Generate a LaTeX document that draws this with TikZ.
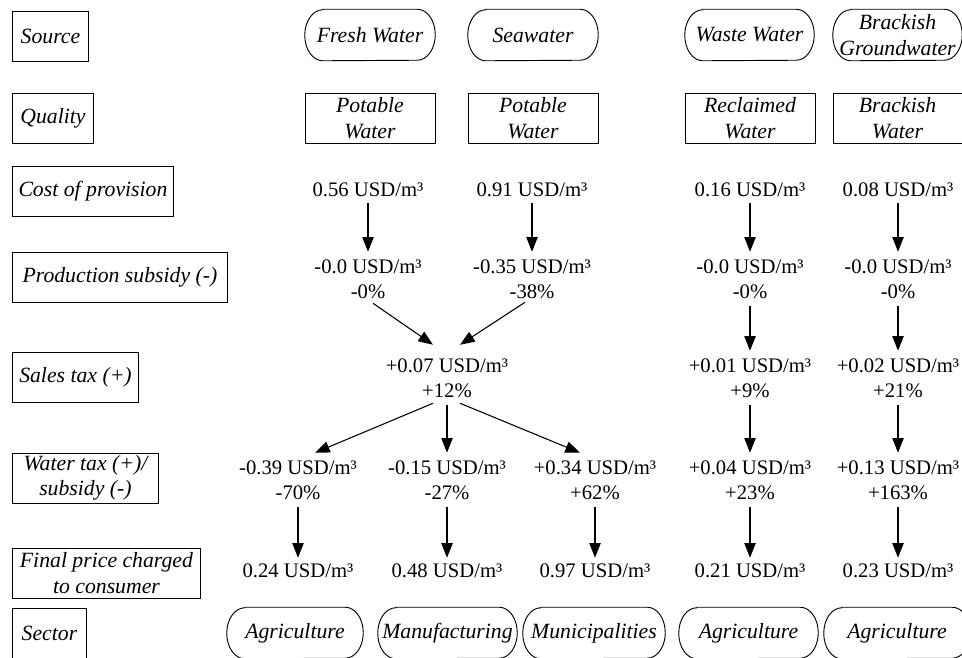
\documentclass[tikz,border=0pt]{standalone}
\usepackage{fontspec}
\setmainfont{Liberation Serif}
\usetikzlibrary{arrows.meta,calc}
\newcommand\vfnt{\fontsize{15.5}{19}\selectfont}
\newcommand\ifnt{\fontsize{16.3}{19}\selectfont\itshape}
\newcommand\stadout[1]{%
  \draw[line width=0.7pt] ($(#1.north west)+(18,0)$) -- ($(#1.north east)+(-18,0)$)
    arc[start angle=90,end angle=-90,x radius=13.5pt,y radius=19.125pt]
    -- ($(#1.south west)+(18,0)$)
    arc[start angle=270,end angle=90,x radius=13.5pt,y radius=19.125pt] -- cycle;}
\tikzset{
  lbl/.style={draw, line width=0.7pt, font=\ifnt, align=center, inner sep=0pt,
    anchor=west, minimum height=37.5pt},
  qbox/.style={draw, line width=0.7pt, font=\ifnt, align=center, inner sep=0pt,
    minimum height=37.5pt},
  stad/.style={font=\ifnt, align=center, inner sep=0pt, minimum height=38.25pt},
  val/.style={font=\vfnt, align=center, inner sep=0pt, minimum height=19.5pt},
  valtwo/.style={font=\vfnt, align=center, inner sep=0pt, minimum height=40.5pt},
  arr/.style={line width=0.8pt, -{Triangle[length=11pt,width=8.5pt]}},
}
\begin{document}
\begin{tikzpicture}[x=0.75pt,y=-0.75pt]
\path[use as bounding box] (0,0) rectangle (962,657);
\clip (0,0) rectangle (962,657);

% row labels
\node[lbl, minimum width=57pt]     (lsrc)  at (12,36)  {Source};
\node[lbl, minimum width=60.75pt]  (lqual) at (12,118) {Quality};
\node[lbl, minimum width=120.75pt] (lcost) at (12,191) {Cost of provision};
\node[lbl, minimum width=161.25pt] (lprod) at (12,277) {Production subsidy (-)};
\node[lbl, minimum width=94.5pt]   (lsale) at (12,377) {Sales tax (+)};
\node[lbl, minimum width=109.5pt]  (lwat)  at (12,478) {Water tax (+)/\\subsidy (-)};
\node[lbl, minimum width=141pt]    (lfin)  at (12,573) {Final price charged\\to consumer};
\node[lbl, minimum width=55.5pt]   (lsec)  at (12,633) {Sector};

% sources
\node[stad, minimum width=97.5pt]  (src1) at (370,35)   {Fresh Water};
\node[stad, minimum width=97.5pt]  (src2) at (533,35)   {Seawater};
\node[stad, minimum width=96.75pt] (src3) at (749.5,35) {Waste Water};
\node[stad, minimum width=96.75pt] (src4) at (897.5,35) {Brackish\\Groundwater};
\stadout{src1}\stadout{src2}\stadout{src3}\stadout{src4}

% quality
\node[qbox, minimum width=97.5pt]  (q1) at (370,118)   {Potable\\Water};
\node[qbox, minimum width=97.5pt]  (q2) at (533,118)   {Potable\\Water};
\node[qbox, minimum width=97.5pt]  (q3) at (750,118)   {Reclaimed\\Water};
\node[qbox, minimum width=96.75pt] (q4) at (897.5,118) {Brackish\\Water};

% cost of provision
\node[val] (c1) at (368,190) {0.56 USD/m³};
\node[val] (c2) at (532,190) {0.91 USD/m³};
\node[val] (c3) at (750,190) {0.16 USD/m³};
\node[val] (c4) at (898,190) {0.08 USD/m³};

% production subsidy
\node[valtwo] (p1) at (368,279) {-0.0 USD/m³\\-0\%};
\node[valtwo] (p2) at (532,279) {-0.35 USD/m³\\-38\%};
\node[valtwo] (p3) at (750,279) {-0.0 USD/m³\\-0\%};
\node[valtwo] (p4) at (898,279) {-0.0 USD/m³\\-0\%};

% sales tax
\node[valtwo] (s)  at (447,378) {+0.07 USD/m³\\+12\%};
\node[valtwo] (s3) at (750,378) {+0.01 USD/m³\\+9\%};
\node[valtwo] (s4) at (898,378) {+0.02 USD/m³\\+21\%};

% water tax / subsidy
\node[valtwo] (w1) at (298,480) {-0.39 USD/m³\\-70\%};
\node[valtwo] (w2) at (447,480) {-0.15 USD/m³\\-27\%};
\node[valtwo] (w3) at (595,480) {+0.34 USD/m³\\+62\%};
\node[valtwo] (w4) at (750,480) {+0.04 USD/m³\\+23\%};
\node[valtwo] (w5) at (898,480) {+0.13 USD/m³\\+163\%};

% final price
\node[val] (f1) at (298,571) {0.24 USD/m³};
\node[val] (f2) at (447,571) {0.48 USD/m³};
\node[val] (f3) at (595,571) {0.97 USD/m³};
\node[val] (f4) at (750,571) {0.21 USD/m³};
\node[val] (f5) at (898,571) {0.23 USD/m³};

% sectors
\node[stad, minimum width=102pt]    (sec1) at (295,633)   {Agriculture};
\node[stad, minimum width=104.25pt] (sec2) at (447.5,633) {Manufacturing};
\node[stad, minimum width=106.5pt]  (sec3) at (594,633)   {Municipalities};
\node[stad, minimum width=104.25pt] (sec4) at (748.5,633) {Agriculture};
\node[stad, minimum width=109.5pt]  (sec5) at (897,633)   {Agriculture};
\stadout{sec1}\stadout{sec2}\stadout{sec3}\stadout{sec4}\stadout{sec5}

% arrows
\draw[arr] (c1.south) -- (p1.north);
\draw[arr] (c2.south) -- (p2.north);
\draw[arr] (c3.south) -- (p3.north);
\draw[arr] (c4.south) -- (p4.north);

\draw[arr] ($(p1.south)+(5,-3)$) -- ($(s.north)+(-14,-6)$);
\draw[arr] ($(p2.south)+(-7,-4)$) -- ($(s.north)+(13,-6)$);
\draw[arr] (p3.south) -- (s3.north);
\draw[arr] (p4.south) -- (s4.north);

\draw[arr] ($(s.south)+(-14,-2)$) -- ($(w1.north)+(17,0)$);
\draw[arr] (s.south) -- (w2.north);
\draw[arr] ($(s.south)+(13,-2)$) -- ($(w3.north)+(-15,0)$);
\draw[arr] (s3.south) -- (w4.north);
\draw[arr] (s4.south) -- (w5.north);

\draw[arr] (w1.south) -- (f1.north);
\draw[arr] (w2.south) -- (f2.north);
\draw[arr] (w3.south) -- (f3.north);
\draw[arr] (w4.south) -- (f4.north);
\draw[arr] (w5.south) -- (f5.north);
\end{tikzpicture}
\end{document}
